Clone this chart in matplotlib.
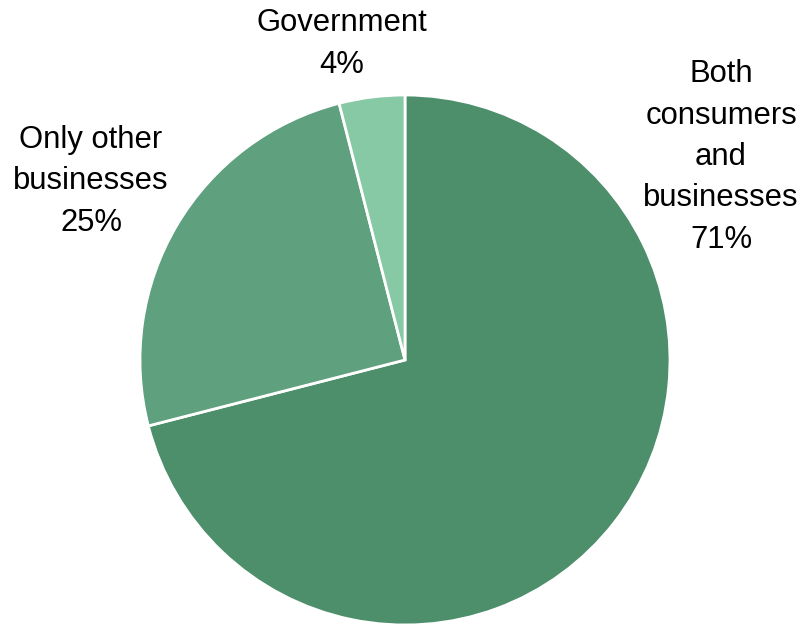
import matplotlib
matplotlib.use("Agg")
import matplotlib.pyplot as plt

plt.rcParams['font.family'] = ['Liberation Sans', 'DejaVu Sans']

categories = ["Both\nconsumers\nand\nbusinesses", "Only other\nbusinesses", "Government"]
shares = [71, 25, 4]
colors = ["#4d8f6b", "#5fa07e", "#87c8a5"]

W, H = 805, 625
fig = plt.figure(figsize=(W / 100, H / 100), dpi=100)

cx, cy, r = 405, 360, 265
ax = fig.add_axes([(cx - r) / W, 1 - (cy + r) / H, 2 * r / W, 2 * r / H])
ax.pie(shares, colors=colors, startangle=90, counterclock=False, radius=1,
       wedgeprops=dict(edgecolor="white", linewidth=2))
ax.set_xlim(-1, 1)
ax.set_ylim(-1, 1)
ax.set_aspect("equal")
ax.axis("off")

# label block centres in pixel coordinates
label_pos = [(721, 157), (91, 181), (342, 44)]
for cat, val, (px, py) in zip(categories, shares, label_pos):
    fig.text(px / W, 1 - py / H, f"{cat}\n{val}%", ha="center", va="center",
             fontsize=22.3, linespacing=1.5, color="#000000")

fig.savefig("out.png", dpi=100)
